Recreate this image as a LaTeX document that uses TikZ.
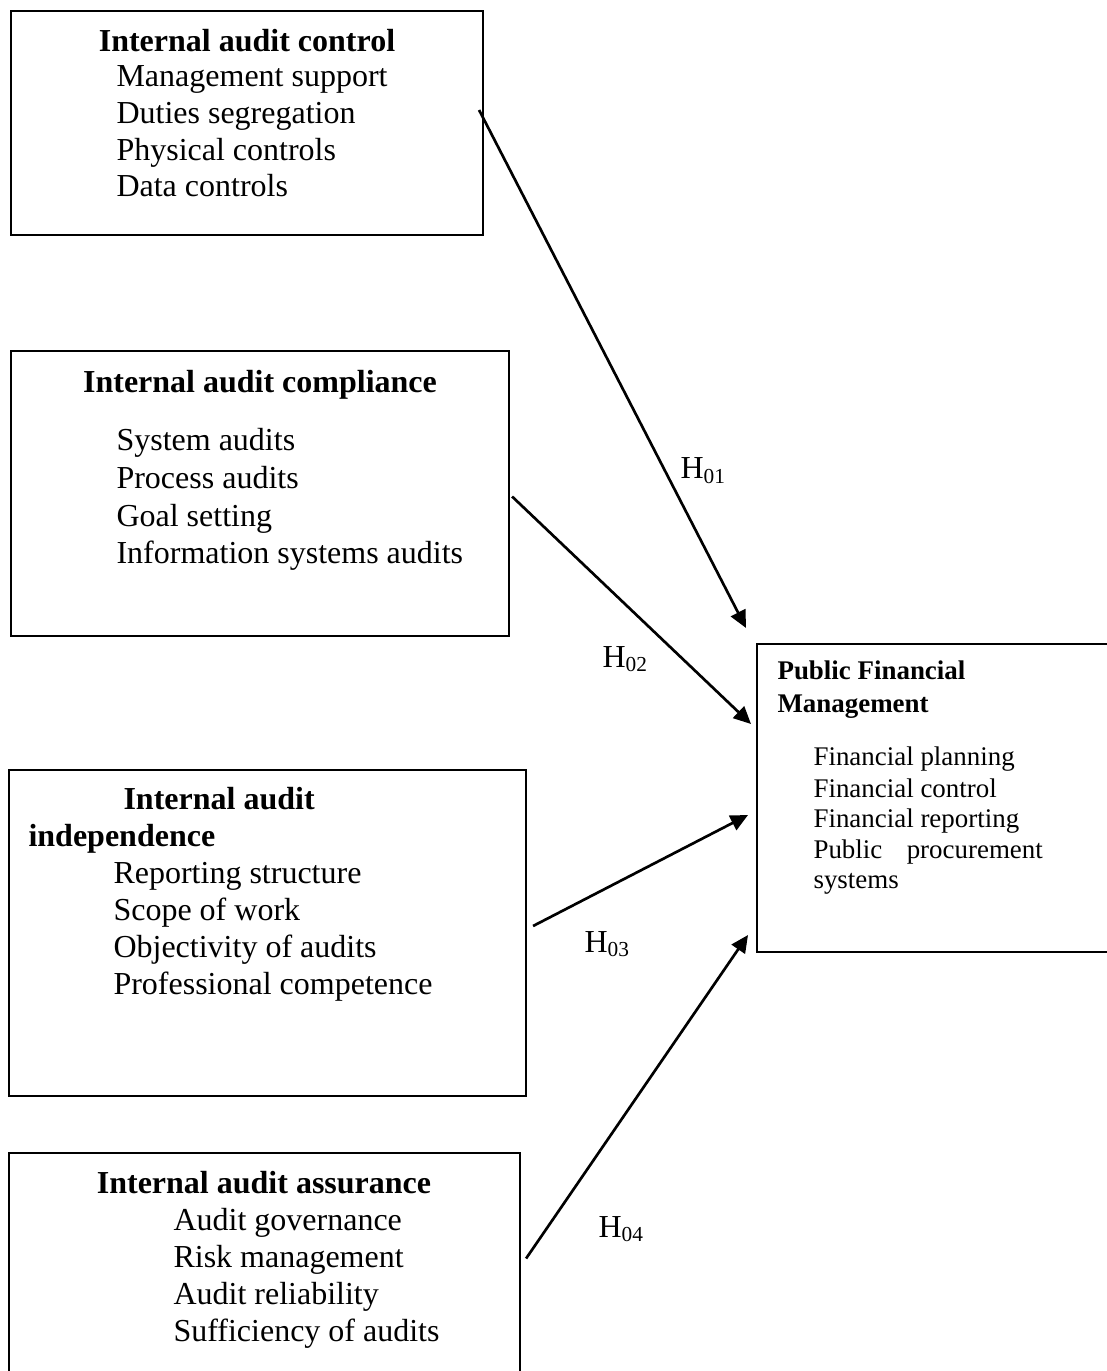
\documentclass[tikz,border=0pt]{standalone}
\usepackage{fontspec}
\setmainfont{Liberation Serif}
\usepackage{tikz}
\usetikzlibrary{fit}
\usetikzlibrary{arrows.meta}
\tikzstyle{BoxFrame}=[draw,line width=0.8pt,inner sep=0pt]
\tikzstyle{TitleText}=[anchor=base,inner sep=0pt,font=\fontsize{12}{13.8}\selectfont\bfseries]
\tikzstyle{TitleLeft}=[anchor=base west,inner sep=0pt,font=\fontsize{12}{13.8}\selectfont\bfseries]
\tikzstyle{ItemText}=[anchor=base west,inner sep=0pt,font=\fontsize{12}{13.8}\selectfont]
\tikzstyle{PfmTitle}=[anchor=base west,inner sep=0pt,font=\fontsize{10.1}{12}\selectfont\bfseries]
\tikzstyle{PfmItem}=[anchor=base west,inner sep=0pt,font=\fontsize{10.1}{12}\selectfont]
\tikzstyle{HypLabel}=[anchor=base west,inner sep=0pt,font=\fontsize{12}{13.8}\selectfont]
\tikzstyle{LinkArrow}=[line width=1pt,-{Triangle[length=6.5pt,width=6pt]}]

\begin{document}
\begin{tikzpicture}[x=0.375pt,y=-0.375pt]
        \useasboundingbox (0,0) rectangle (1106,1371);
        % frames
        \node[BoxFrame,fit={(11,11)(483,235)}](ctrl){};
        \node[BoxFrame,fit={(11,351)(509,636)}](comp){};
        \node[BoxFrame,fit={(9,770)(526,1096)}](indep){};
        \node[BoxFrame,fit={(9,1153)(520,1390)}](assur){};
        \node[BoxFrame,fit={(757,644)(1115,952)}](pfm){};
        % internal audit control
        \node[TitleText](ctrlT)at(247,52){Internal audit control};
        \node[ItemText](ctrlA)at(116,87){Management support};
        \node[ItemText](ctrlB)at(116,124){Duties segregation};
        \node[ItemText](ctrlC)at(116,161){Physical controls};
        \node[ItemText](ctrlD)at(116,197){Data controls};
        % internal audit compliance
        \node[TitleText](compT)at(260,393){Internal audit compliance};
        \node[ItemText](compA)at(116,451){System audits};
        \node[ItemText](compB)at(116,488){Process audits};
        \node[ItemText](compC)at(116,526){Goal setting};
        \node[ItemText](compD)at(116,563){Information systems audits};
        % internal audit independence
        \node[TitleLeft](indepT)at(123,809){Internal audit};
        \node[TitleLeft](indepU)at(28,846){independence};
        \node[ItemText](indepA)at(113,883){Reporting structure};
        \node[ItemText](indepB)at(113,920){Scope of work};
        \node[ItemText](indepC)at(113,957){Objectivity of audits};
        \node[ItemText](indepD)at(113,994){Professional competence};
        % internal audit assurance
        \node[TitleText](assurT)at(264,1193){Internal audit assurance};
        \node[ItemText](assurA)at(173,1230){Audit governance};
        \node[ItemText](assurB)at(173,1267){Risk management};
        \node[ItemText](assurC)at(173,1304){Audit reliability};
        \node[ItemText](assurD)at(173,1341){Sufficiency of audits};
        % public financial management
        \node[PfmTitle](pfmT)at(777,679){Public Financial};
        \node[PfmTitle](pfmU)at(777,712){Management};
        \node[PfmItem](pfmA)at(813,765){Financial planning};
        \node[PfmItem](pfmB)at(813,797){Financial control};
        \node[PfmItem](pfmC)at(813,827){Financial reporting};
        \node[PfmItem](pfmD)at(813,858){\makebox[86pt][s]{Public procurement}};
        \node[PfmItem](pfmE)at(813,888){systems};
        % hypotheses
        \node[HypLabel](h1)at(680,479){H\textsubscript{01}};
        \node[HypLabel](h2)at(602,667){H\textsubscript{02}};
        \node[HypLabel](h3)at(584,952){H\textsubscript{03}};
        \node[HypLabel](h4)at(598,1237){H\textsubscript{04}};
        \coordinate(t1)at(746,628);
        \coordinate(t2)at(751,724);
        \coordinate(t3)at(748,815);
        \coordinate(t4)at(748,935);
        \draw[LinkArrow]([shift={(-5,-13)}]ctrl.east)--(t1);
        \draw[LinkArrow]([shift={(2,3)}]comp.east)--(t2);
        \draw[LinkArrow]([shift={(6,-7)}]indep.east)--(t3);
        \draw[LinkArrow]([shift={(5,-13)}]assur.east)--(t4);
    \end{tikzpicture}
\end{document}
